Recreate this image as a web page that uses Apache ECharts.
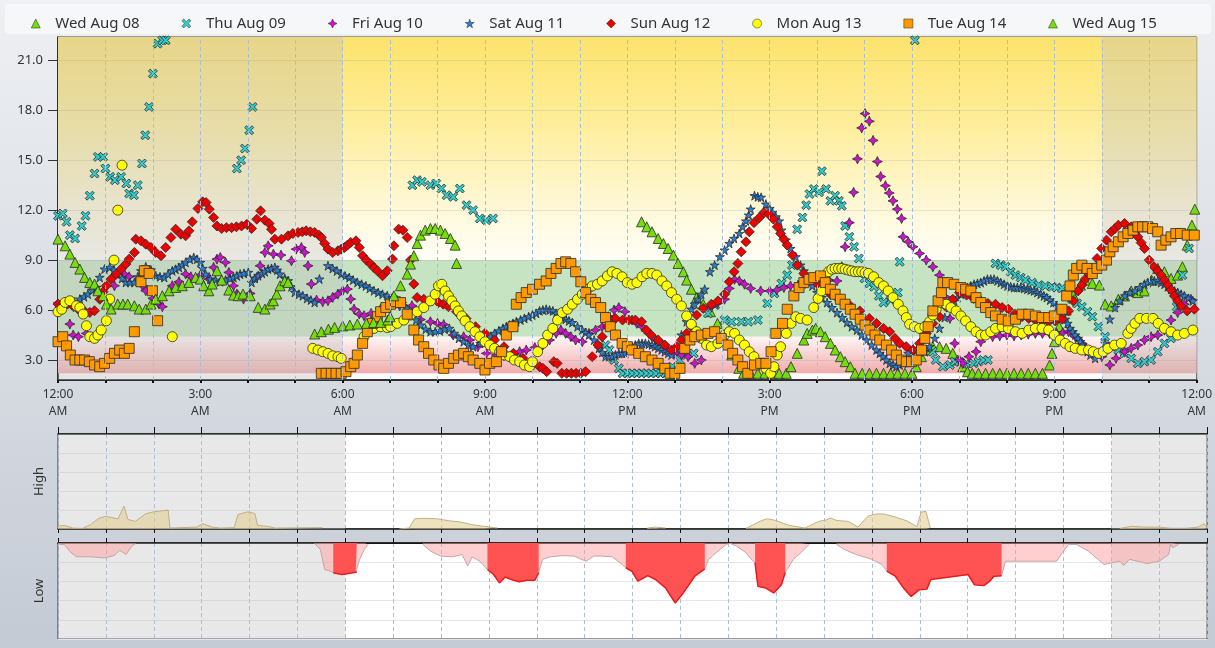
<!DOCTYPE html>
<html>
<head>
<meta charset="utf-8">
<script src="https://cdn.jsdelivr.net/npm/echarts@6.0.0/dist/echarts.min.js"></script>
<style>
  html, body { margin: 0; padding: 0; }
  #chart { width: 1215px; height: 648px; background: linear-gradient(#eef0f3, #c4cad4); }
</style>
</head>
<body>
<div id="chart"></div>
<script>
// readings per day: [hour of day, mmol/L]
const wedAug08 = [[12.3,11.3],[12.41,11.0],[12.52,10.7],[12.65,10.3],[12.76,10.0],[12.86,9.7],[12.97,9.3],[13.07,8.8],[13.18,8.3],[13.25,7.8],[13.35,7.25],[13.46,6.75],[13.6,6.35],[13.75,5.9],[13.9,5.2],[14.05,4.3],[14.2,3.3],[14.35,2.5],[14.45,2.2],[14.6,2.2],[14.75,2.2],[14.9,2.2],[15.05,2.2],[15.2,2.2],[15.35,2.2],[15.45,2.6],[15.58,3.4],[15.72,4.2],[15.79,4.6],[15.9,4.8],[15.97,4.9],[16.07,4.7],[16.17,4.4],[16.28,4.0],[16.38,3.6],[16.49,3.2],[16.59,2.9],[16.7,2.6],[16.8,2.2],[16.95,2.2],[17.1,2.2],[17.25,2.2],[17.4,2.2],[17.55,2.2],[17.7,2.2],[17.85,2.2],[18.0,2.2],[18.09,2.6],[18.2,3.2],[18.3,3.6],[18.44,3.8],[18.58,3.8],[18.72,3.7],[18.86,3.4],[18.96,3.0],[19.07,2.6],[19.17,2.3],[19.27,2.2],[19.4,2.2],[19.55,2.2],[19.7,2.2],[19.85,2.2],[20.0,2.2],[20.15,2.2],[20.3,2.2],[20.45,2.2],[20.6,2.2],[20.75,2.2],[20.9,2.7],[20.95,3.4],[21.0,4.1],[21.1,5.0],[21.25,6.0],[21.4,6.9],[21.55,7.5],[21.65,7.8],[21.8,7.6],[21.95,7.5],[22.07,6.35],[22.2,6.25],[22.35,6.65],[22.48,6.85],[22.62,7.15],[22.76,7.05],[22.9,7.15],[23.05,7.8],[23.18,8.5],[23.32,8.3],[23.46,7.9],[23.6,8.1],[23.7,8.6],[23.8,9.9],[23.9,11.1],[23.96,12.06]];

const thuAug09 = [[0,11.66],[0.1,11.8],[0.18,11.3],[0.25,10.5],[0.36,10.3],[0.5,11.05],[0.58,11.66],[0.67,12.87],[0.77,14.2],[0.84,15.2],[0.95,15.2],[1.0,14.5],[1.1,14.0],[1.2,13.8],[1.33,14.0],[1.44,13.6],[1.5,13.0],[1.6,12.9],[1.68,13.5],[1.77,14.8],[1.84,16.5],[1.92,18.2],[2.0,20.2],[2.1,22.0],[2.2,22.2],[2.27,22.2],[3.77,14.5],[3.86,15.0],[3.94,15.7],[4.03,16.8],[4.1,18.2],[7.47,13.5],[7.57,13.8],[7.67,13.7],[7.85,13.5],[7.97,13.6],[8.08,13.3],[8.19,12.9],[8.33,12.8],[8.47,13.3],[8.61,12.3],[8.75,12.0],[8.89,11.5],[9.03,11.4],[9.17,11.5],[11.54,3.9],[11.62,3.6],[11.72,3.0],[11.82,2.5],[11.9,2.2],[12.0,2.2],[12.1,2.2],[12.2,2.2],[12.3,2.2],[12.4,2.2],[12.5,2.2],[12.6,2.2],[12.7,2.2],[12.8,2.2],[12.95,2.6],[13.1,3.0],[13.25,3.3],[13.4,3.4],[13.55,4.6],[13.7,5.8],[13.85,6.3],[14.05,5.4],[14.2,5.3],[14.4,5.3],[14.55,5.3],[14.75,5.4],[14.95,6.4],[15.1,7.0],[15.25,7.6],[15.37,8.1],[15.47,8.7],[15.58,10.85],[15.69,11.56],[15.77,12.3],[15.84,12.97],[15.93,13.27],[16.04,13.07],[16.1,14.34],[16.19,13.27],[16.28,12.56],[16.38,12.87],[16.46,12.56],[16.52,12.26],[16.59,11.05],[16.68,10.4],[16.78,9.8],[16.88,9.1],[17.0,7.9],[17.1,7.6],[17.2,7.4],[17.3,6.85],[17.4,6.45],[17.55,6.6],[17.7,7.05],[17.74,8.9],[18.06,22.2],[18.44,3.5],[18.5,3.0],[18.65,2.6],[18.8,2.7],[18.9,2.9],[19.0,2.9],[19.15,2.8],[19.3,2.8],[19.4,2.9],[19.5,3.0],[19.6,3.0],[19.76,8.8],[19.87,8.7],[19.97,8.6],[20.08,8.3],[20.18,8.1],[20.29,7.95],[20.39,7.8],[20.53,7.65],[20.67,7.5],[20.81,7.45],[20.95,7.4],[21.05,7.35],[21.16,7.3],[21.27,6.95],[21.37,6.65],[21.48,6.4],[21.58,6.2],[21.7,5.9],[21.8,5.6],[21.93,5.0],[22.07,4.4],[22.2,3.8],[22.35,3.6],[22.48,3.4],[22.62,3.1],[22.76,2.8],[22.9,2.9],[23.04,3.0],[23.18,3.5],[23.32,4.0],[23.46,4.3],[23.58,6.2],[23.7,8.1],[23.84,9.7]];

const friAug10 = [[0.25,5.16],[0.32,4.5],[0.43,4.4],[0.6,4.6],[1.19,7.46],[1.4,8.16],[1.5,8.0],[1.78,7.46],[1.85,7.16],[2.0,6.7],[2.13,6.36],[2.2,6.2],[2.41,7.46],[2.55,7.7],[2.69,8.16],[2.8,8.0],[3.0,8.1],[3.18,7.86],[3.28,8.56],[3.35,9.06],[3.42,9.16],[3.53,8.86],[3.6,8.26],[3.7,7.46],[3.77,6.96],[3.91,6.66],[4.05,7.0],[4.19,7.96],[4.26,8.66],[4.36,9.46],[4.43,9.86],[4.54,9.36],[4.7,9.3],[4.92,8.96],[5.02,9.66],[5.13,9.76],[5.2,9.46],[5.27,8.66],[5.34,7.56],[5.45,6.6],[5.58,6.5],[5.69,6.56],[5.79,6.76],[5.9,6.96],[6.0,7.16],[6.1,7.26],[6.17,6.66],[6.24,6.06],[6.35,5.76],[6.45,5.66],[6.6,5.8],[6.8,6.06],[7.0,6.2],[7.2,6.25],[7.46,6.26],[7.64,5.43],[7.85,5.3],[8.0,5.2],[8.13,5.13],[8.33,4.5],[8.55,4.4],[8.68,4.2],[8.85,3.8],[9.03,3.4],[9.24,3.3],[9.4,3.25],[9.59,3.3],[9.73,3.5],[9.87,3.6],[10.05,3.75],[10.22,3.9],[10.36,4.2],[10.5,4.6],[10.6,4.8],[10.7,4.6],[10.81,4.4],[10.91,4.2],[11.05,4.1],[11.19,4.6],[11.33,4.8],[11.47,5.0],[11.6,5.6],[11.72,6.0],[11.82,6.15],[11.95,5.9],[12.1,5.4],[12.2,5.2],[12.31,5.0],[12.45,4.6],[12.6,4.2],[12.75,3.9],[12.86,3.6],[13.0,3.4],[13.14,3.3],[13.28,3.2],[13.42,2.8],[13.56,3.0],[13.66,4.5],[13.77,6.2],[13.9,6.4],[14.05,6.65],[14.15,7.3],[14.26,7.85],[14.36,7.75],[14.47,7.55],[14.6,7.3],[14.81,7.15],[15.0,7.15],[15.15,7.2],[15.3,7.35],[15.44,7.45],[15.6,7.5],[15.75,7.6],[15.9,7.7],[16.07,7.85],[16.25,7.8],[16.42,7.75],[16.52,8.6],[16.59,9.8],[16.68,11.25],[16.77,13.07],[16.85,15.08],[16.94,16.94],[17.01,17.8],[17.1,17.34],[17.18,16.19],[17.27,14.92],[17.34,14.02],[17.44,13.47],[17.52,13.03],[17.6,12.56],[17.69,12.06],[17.78,11.5],[17.81,10.4],[17.92,10.1],[18.02,9.8],[18.16,9.4],[18.3,9.0],[18.44,8.6],[18.58,8.1],[18.7,6.8],[18.8,5.5],[18.9,4.0],[19.0,3.0],[19.07,2.8],[19.2,3.2],[19.35,3.5],[19.45,4.1],[19.55,4.5],[19.7,4.4],[19.85,4.45],[20.0,4.5],[20.15,4.45],[20.3,4.5],[20.45,4.55],[20.6,4.6],[20.75,4.6],[20.9,4.6],[21.05,4.6],[21.18,4.65],[21.3,4.7],[21.44,4.4],[21.58,4.0],[21.72,3.5],[21.86,3.3],[22.0,3.2],[22.17,2.7],[22.3,3.1],[22.48,3.5],[22.62,3.7],[22.76,3.9],[22.9,4.2],[23.04,4.4],[23.18,4.5],[23.32,4.8],[23.46,5.4],[23.6,5.85],[23.74,6.35],[23.88,6.65]];

const satAug11 = [[0,6.4],[0.1,6.35],[0.22,6.36],[0.34,6.5],[0.46,6.66],[0.55,6.8],[0.63,6.96],[0.72,7.2],[0.81,7.36],[0.88,7.96],[0.98,8.46],[1.09,8.56],[1.18,8.4],[1.26,8.16],[1.35,7.9],[1.43,7.66],[1.52,7.66],[1.61,7.66],[1.68,8.0],[1.75,8.36],[1.85,8.6],[1.96,8.4],[2.06,8.06],[2.15,8.0],[2.24,7.96],[2.32,8.15],[2.41,8.36],[2.48,8.45],[2.55,8.56],[2.62,8.7],[2.69,8.86],[2.78,9.05],[2.86,9.16],[2.93,9.05],[3.0,8.86],[3.05,8.5],[3.11,8.16],[3.21,7.86],[3.32,7.8],[3.42,7.7],[3.53,7.8],[3.63,7.9],[3.7,7.96],[3.77,8.05],[3.84,8.16],[3.92,8.2],[4.01,8.26],[4.08,7.66],[4.15,7.9],[4.22,8.06],[4.3,8.2],[4.36,8.3],[4.43,8.46],[4.5,8.5],[4.57,8.56],[4.62,8.4],[4.68,8.16],[4.78,7.9],[4.85,7.76],[4.92,7.4],[4.99,7.06],[5.08,6.95],[5.16,6.86],[5.25,6.7],[5.33,6.6],[5.41,6.46],[5.51,7.86],[5.69,8.66],[5.79,8.5],[5.88,8.35],[5.97,8.16],[6.05,8.05],[6.14,7.95],[6.22,7.8],[6.31,7.66],[6.4,7.55],[6.49,7.45],[6.57,7.3],[6.66,7.16],[6.75,7.05],[6.84,6.95],[6.94,6.86],[7.05,6.75],[7.15,6.6],[7.25,6.4],[7.35,6.1],[7.45,5.8],[7.55,5.4],[7.65,5.1],[7.75,4.85],[7.85,4.7],[7.95,4.7],[8.05,4.75],[8.15,4.85],[8.25,4.9],[8.35,4.6],[8.45,4.3],[8.55,4.1],[8.65,3.9],[8.75,3.8],[8.9,4.0],[9.03,4.2],[9.12,4.4],[9.2,4.6],[9.29,4.75],[9.38,4.9],[9.45,5.0],[9.52,5.1],[9.59,5.2],[9.66,5.3],[9.75,5.4],[9.83,5.5],[9.92,5.6],[10.0,5.7],[10.08,5.8],[10.15,5.95],[10.22,6.0],[10.29,6.05],[10.36,6.0],[10.43,5.95],[10.5,5.8],[10.56,5.65],[10.63,5.55],[10.7,5.45],[10.77,5.35],[10.84,5.25],[10.95,5.0],[11.05,4.8],[11.12,4.65],[11.19,4.5],[11.3,4.2],[11.4,3.7],[11.47,3.45],[11.54,3.2],[11.61,3.2],[11.68,3.2],[11.75,3.3],[11.82,3.4],[11.89,3.4],[11.96,3.4],[12.03,3.6],[12.1,3.8],[12.17,3.9],[12.24,4.0],[12.31,4.0],[12.38,4.0],[12.45,3.95],[12.52,3.9],[12.58,3.8],[12.65,3.7],[12.72,3.6],[12.79,3.5],[12.86,3.4],[12.93,3.3],[13.04,3.7],[13.14,4.5],[13.25,5.3],[13.35,6.05],[13.42,6.35],[13.49,6.65],[13.56,6.95],[13.63,7.25],[13.74,8.3],[13.84,8.7],[13.95,9.2],[14.05,9.6],[14.15,10.0],[14.25,10.3],[14.36,10.6],[14.43,11.0],[14.5,11.35],[14.56,11.7],[14.6,12.06],[14.68,12.87],[14.75,12.8],[14.82,12.77],[14.92,12.36],[15.0,12.1],[15.06,11.86],[15.13,11.6],[15.2,11.35],[15.25,10.8],[15.34,10.2],[15.44,9.7],[15.55,9.2],[15.65,8.7],[15.72,8.35],[15.79,8.0],[15.9,7.45],[16.0,7.05],[16.1,6.75],[16.21,6.45],[16.31,6.15],[16.42,5.85],[16.53,5.55],[16.63,5.25],[16.73,5.0],[16.84,4.8],[16.94,4.5],[17.04,4.2],[17.15,3.9],[17.25,3.6],[17.32,3.4],[17.39,3.2],[17.46,3.0],[17.53,2.8],[17.6,2.7],[17.67,2.6],[17.74,2.7],[17.81,2.8],[17.92,3.4],[18.02,3.7],[18.1,3.6],[18.16,3.5],[18.27,3.5],[18.37,3.8],[18.48,4.3],[18.58,4.9],[18.69,5.55],[18.79,6.15],[18.89,6.55],[18.96,6.75],[19.03,6.95],[19.1,7.15],[19.17,7.35],[19.24,7.45],[19.31,7.55],[19.38,7.6],[19.45,7.65],[19.52,7.75],[19.59,7.85],[19.66,7.85],[19.73,7.85],[19.8,7.75],[19.87,7.65],[19.94,7.55],[20.01,7.45],[20.08,7.4],[20.15,7.35],[20.22,7.35],[20.29,7.35],[20.36,7.3],[20.43,7.25],[20.5,7.2],[20.57,7.15],[20.64,7.05],[20.71,6.95],[20.78,6.85],[20.84,6.75],[20.91,6.6],[20.98,6.45],[21.05,6.2],[21.12,5.95],[21.18,5.7],[21.23,5.45],[21.28,5.2],[21.33,4.9],[21.39,4.7],[21.44,4.5],[21.5,4.3],[21.55,4.1],[21.6,3.9],[21.65,3.7],[21.7,3.5],[21.76,3.3],[21.86,3.1],[21.97,3.4],[22.07,4.0],[22.17,5.45],[22.28,6.15],[22.38,6.55],[22.49,6.85],[22.59,7.05],[22.7,7.15],[22.8,7.35],[22.9,7.55],[22.97,7.65],[23.04,7.75],[23.11,7.75],[23.18,7.75],[23.25,7.65],[23.32,7.55],[23.39,7.4],[23.46,7.25],[23.53,7.15],[23.6,7.05],[23.67,6.95],[23.74,6.85],[23.83,6.7],[23.92,6.55]];

const sunAug12 = [[0,6.36],[0.1,6.36],[0.2,6.36],[0.33,6.2],[0.46,5.96],[0.57,5.9],[0.67,5.86],[0.77,5.96],[0.88,6.65],[0.95,7.1],[1.02,7.46],[1.12,7.86],[1.23,8.16],[1.33,8.46],[1.43,8.76],[1.5,9.06],[1.61,9.46],[1.64,10.26],[1.75,10.16],[1.85,9.96],[1.96,9.76],[2.06,9.46],[2.17,9.26],[2.27,9.76],[2.38,10.36],[2.48,10.86],[2.59,10.56],[2.69,10.46],[2.76,10.76],[2.83,11.3],[2.95,12.1],[3.05,12.5],[3.12,12.46],[3.19,12.06],[3.28,11.56],[3.35,11.05],[3.45,10.9],[3.55,10.95],[3.66,10.95],[3.76,11.0],[3.87,11.05],[3.98,11.15],[4.08,10.9],[4.19,11.46],[4.27,11.96],[4.36,11.4],[4.45,11.2],[4.5,10.85],[4.57,10.26],[4.71,10.26],[4.85,10.46],[4.95,10.6],[5.06,10.66],[5.15,10.7],[5.23,10.76],[5.32,10.7],[5.41,10.66],[5.5,10.5],[5.55,10.36],[5.62,10.0],[5.69,9.66],[5.79,9.46],[5.9,9.56],[5.97,9.66],[6.04,9.76],[6.1,9.9],[6.17,10.06],[6.28,10.16],[6.35,9.76],[6.42,9.26],[6.5,9.0],[6.59,8.76],[6.66,8.55],[6.73,8.36],[6.84,8.06],[6.94,8.36],[7.05,9.06],[7.08,9.86],[7.18,10.86],[7.27,10.8],[7.36,10.36],[7.43,9.0],[7.5,7.56],[7.57,6.75],[7.71,6.65],[7.88,6.55],[8.02,6.45],[8.12,6.35],[8.23,6.2],[8.4,5.9],[8.6,5.5],[8.8,5.0],[9.0,4.6],[9.2,4.2],[9.4,3.8],[9.6,3.4],[9.8,3.1],[10.0,2.9],[10.15,2.6],[10.22,2.5],[10.3,2.3],[10.45,2.9],[10.52,2.8],[10.62,2.2],[10.72,2.2],[10.82,2.2],[10.92,2.2],[11.02,2.2],[11.12,2.3],[11.26,3.2],[11.38,3.9],[11.47,4.4],[11.58,5.0],[11.68,5.4],[11.75,5.5],[11.9,5.4],[12.03,5.4],[12.17,5.4],[12.3,5.3],[12.4,4.8],[12.5,4.5],[12.65,4.2],[12.79,3.9],[12.93,3.6],[13.04,3.8],[13.14,4.2],[13.25,4.6],[13.35,5.0],[13.46,5.7],[13.6,6.1],[13.77,6.35],[13.91,6.55],[14.05,6.95],[14.15,7.7],[14.25,8.3],[14.33,8.8],[14.4,9.5],[14.5,10.1],[14.57,10.7],[14.67,11.25],[14.78,11.55],[14.88,11.86],[14.98,11.76],[15.08,11.46],[15.16,11.0],[15.23,10.6],[15.3,10.25],[15.37,9.9],[15.48,9.3],[15.58,8.7],[15.72,8.2],[15.86,7.9],[16.0,7.6],[16.14,7.2],[16.28,6.95],[16.42,6.75],[16.56,6.45],[16.7,6.25],[16.9,5.95],[17.1,5.5],[17.25,5.2],[17.4,4.9],[17.53,4.7],[17.64,4.3],[17.74,4.0],[17.88,3.8],[18.02,3.6],[18.16,4.0],[18.3,4.6],[18.44,5.2],[18.58,5.6],[18.72,6.2],[18.86,6.65],[19.0,7.05],[19.15,6.9],[19.3,6.7],[19.45,6.55],[19.6,6.4],[19.76,6.35],[19.9,6.15],[20.03,6.05],[20.17,5.75],[20.32,5.6],[20.46,5.5],[20.6,5.4],[20.74,5.35],[20.88,5.3],[21.02,5.35],[21.16,5.45],[21.3,5.95],[21.4,6.55],[21.5,7.15],[21.58,7.5],[21.65,7.85],[21.72,8.2],[21.8,8.5],[21.9,9.1],[22.0,9.7],[22.1,10.2],[22.2,10.7],[22.28,10.9],[22.35,11.1],[22.48,11.2],[22.62,11.0],[22.7,10.7],[22.76,10.4],[22.83,10.05],[22.9,9.7],[23.0,9.0],[23.1,8.6],[23.18,8.35],[23.25,8.1],[23.32,7.8],[23.39,7.5],[23.46,7.2],[23.53,6.85],[23.6,6.55],[23.67,6.25],[23.8,5.95],[23.95,6.05]];

const monAug13 = [[0,5.9],[0.08,6.05],[0.15,6.46],[0.25,6.56],[0.39,6.26],[0.46,6.15],[0.53,5.76],[0.6,5.06],[0.67,4.4],[0.77,4.3],[0.84,4.5],[0.91,4.8],[1.02,5.36],[1.09,6.66],[1.18,9.0],[1.26,12.0],[1.35,14.7],[2.41,4.4],[5.37,3.7],[5.48,3.6],[5.58,3.5],[5.69,3.4],[5.79,3.25],[5.9,3.2],[5.97,3.1],[6.45,4.4],[6.56,4.8],[6.66,4.9],[6.8,5.0],[6.94,4.95],[7.01,5.0],[7.15,5.2],[7.29,5.4],[7.43,5.7],[7.57,5.9],[7.71,6.15],[7.85,6.55],[7.95,6.95],[8.02,7.45],[8.09,7.55],[8.16,7.15],[8.23,6.85],[8.3,6.55],[8.37,6.25],[8.44,5.95],[8.51,5.65],[8.58,5.35],[8.68,5.0],[8.79,4.7],[8.89,4.4],[9.0,4.1],[9.1,3.9],[9.2,3.7],[9.31,3.5],[9.41,3.3],[9.52,3.2],[9.62,3.0],[9.73,2.9],[9.83,2.7],[9.94,2.6],[10.0,2.9],[10.11,3.5],[10.22,4.0],[10.32,4.5],[10.43,4.9],[10.53,5.4],[10.63,5.85],[10.74,6.05],[10.84,6.35],[10.95,6.65],[11.05,6.95],[11.16,7.25],[11.26,7.45],[11.37,7.55],[11.47,7.75],[11.58,8.05],[11.68,8.3],[11.78,8.2],[11.89,8.0],[12.0,7.65],[12.1,7.55],[12.2,7.65],[12.31,8.0],[12.41,8.2],[12.52,8.2],[12.62,8.1],[12.73,7.75],[12.83,7.45],[12.93,7.05],[13.04,6.65],[13.14,6.25],[13.25,5.65],[13.35,5.15],[13.46,4.7],[13.56,4.3],[13.67,3.9],[13.77,3.8],[13.91,4.0],[14.05,4.5],[14.15,4.7],[14.26,4.6],[14.36,4.2],[14.47,3.9],[14.57,3.5],[14.67,3.2],[14.81,2.8],[14.92,2.5],[15.02,2.2],[15.09,2.6],[15.16,3.3],[15.23,3.8],[15.35,4.6],[15.45,5.2],[15.55,5.6],[15.65,5.5],[15.79,5.4],[15.93,6.15],[16.02,6.7],[16.1,7.15],[16.17,7.8],[16.24,8.3],[16.31,8.45],[16.38,8.5],[16.45,8.5],[16.52,8.5],[16.59,8.45],[16.66,8.4],[16.73,8.35],[16.8,8.3],[16.87,8.3],[16.94,8.3],[17.01,8.25],[17.08,8.2],[17.19,8.0],[17.3,7.65],[17.4,7.45],[17.5,7.15],[17.6,6.75],[17.71,6.35],[17.81,5.95],[17.88,5.55],[17.95,5.15],[18.05,5.0],[18.16,4.9],[18.27,5.0],[18.37,5.3],[18.44,5.7],[18.51,6.05],[18.61,6.45],[18.72,6.35],[18.82,6.15],[18.93,5.95],[19.03,5.65],[19.13,5.35],[19.24,5.0],[19.35,4.7],[19.45,4.5],[19.55,4.5],[19.66,4.7],[19.76,4.9],[19.9,5.0],[20.03,4.9],[20.18,4.7],[20.32,4.6],[20.46,4.8],[20.6,4.9],[20.74,4.9],[20.88,4.8],[21.0,4.5],[21.12,4.2],[21.23,4.0],[21.33,3.8],[21.44,3.7],[21.58,3.6],[21.72,3.6],[21.82,3.5],[21.93,3.4],[22.03,3.5],[22.13,3.7],[22.27,3.9],[22.41,4.0],[22.55,4.6],[22.62,4.9],[22.7,5.2],[22.8,5.5],[22.94,5.5],[23.08,5.5],[23.19,5.2],[23.32,4.9],[23.46,4.7],[23.6,4.5],[23.74,4.6],[23.92,4.8]];

const tueAug14 = [[0,4.1],[0.1,4.4],[0.18,3.85],[0.26,3.3],[0.36,3.0],[0.46,3.0],[0.56,3.0],[0.66,2.9],[0.77,2.7],[0.88,2.6],[0.98,2.8],[1.09,3.1],[1.19,3.4],[1.3,3.6],[1.4,3.4],[1.5,3.7],[1.61,4.7],[1.75,7.7],[1.82,8.36],[1.92,8.2],[1.99,7.16],[2.1,5.36],[5.55,2.2],[5.65,2.2],[5.76,2.2],[5.86,2.2],[5.97,2.2],[6.07,2.3],[6.17,2.6],[6.24,2.8],[6.31,3.3],[6.42,4.0],[6.52,4.7],[6.63,5.2],[6.73,5.6],[6.8,5.9],[6.91,6.15],[7.01,6.35],[7.11,6.5],[7.22,6.45],[7.36,5.75],[7.5,4.8],[7.6,4.2],[7.71,3.8],[7.81,3.4],[7.92,3.0],[8.03,2.7],[8.13,2.5],[8.23,2.8],[8.34,3.1],[8.44,3.3],[8.55,3.4],[8.65,3.2],[8.75,3.0],[8.89,2.8],[9.0,2.4],[9.1,2.8],[9.24,2.9],[9.35,3.5],[9.45,4.5],[9.59,5.0],[9.66,6.35],[9.76,6.75],[9.87,7.05],[10.0,7.25],[10.15,7.55],[10.29,7.75],[10.39,8.2],[10.5,8.5],[10.6,8.8],[10.7,8.9],[10.81,8.8],[10.91,8.3],[11.02,7.7],[11.12,7.05],[11.23,6.65],[11.33,6.45],[11.44,6.15],[11.54,5.55],[11.64,5.0],[11.75,4.5],[11.89,4.0],[12.0,3.8],[12.1,3.6],[12.24,3.4],[12.38,3.2],[12.52,3.0],[12.65,2.8],[12.79,2.5],[12.9,2.2],[13.0,2.2],[13.11,2.5],[13.21,3.7],[13.32,4.2],[13.42,4.4],[13.56,4.5],[13.7,4.6],[13.84,4.7],[13.98,4.3],[14.12,3.9],[14.22,3.4],[14.33,3.0],[14.43,2.6],[14.54,2.2],[14.68,2.7],[14.81,2.8],[14.92,2.8],[15.03,3.5],[15.13,4.6],[15.27,5.2],[15.37,6.05],[15.51,6.85],[15.62,7.35],[15.72,7.65],[15.83,7.85],[15.93,7.95],[16.07,8.05],[16.17,7.65],[16.28,7.25],[16.38,6.95],[16.49,6.65],[16.59,6.35],[16.7,6.05],[16.8,5.75],[16.91,5.45],[17.01,5.1],[17.11,4.8],[17.22,4.5],[17.32,4.2],[17.46,3.9],[17.57,3.6],[17.67,3.3],[17.78,3.0],[17.88,2.9],[17.99,2.9],[18.09,3.0],[18.2,3.6],[18.27,4.3],[18.34,5.0],[18.44,5.95],[18.55,6.55],[18.62,7.05],[18.65,7.65],[18.75,7.65],[18.89,7.55],[19.03,7.35],[19.13,7.25],[19.24,7.15],[19.35,6.75],[19.45,6.45],[19.55,6.15],[19.66,5.85],[19.76,5.65],[19.9,5.45],[20.03,5.35],[20.18,5.45],[20.32,5.75],[20.46,5.75],[20.6,5.65],[20.74,5.55],[20.88,5.55],[21.0,5.65],[21.16,6.05],[21.26,6.85],[21.33,7.45],[21.4,8.1],[21.47,8.5],[21.58,8.7],[21.69,8.5],[21.8,8.2],[21.9,8.5],[22.0,8.7],[22.1,9.0],[22.17,9.5],[22.24,9.8],[22.35,10.1],[22.45,10.4],[22.55,10.6],[22.66,10.8],[22.76,11.0],[22.86,11.0],[22.97,11.0],[23.07,10.9],[23.18,10.7],[23.25,9.9],[23.35,10.2],[23.46,10.4],[23.56,10.6],[23.66,10.6],[23.8,10.5],[23.95,10.5]];

const wedAug15 = [[0,10.26],[0.15,9.86],[0.25,9.36],[0.36,8.86],[0.46,8.46],[0.56,7.96],[0.67,7.66],[0.77,7.56],[0.84,7.16],[0.95,6.86],[1.02,6.36],[1.12,6.06],[1.26,6.36],[1.37,6.36],[1.47,6.36],[1.61,6.26],[1.71,6.06],[1.85,6.06],[1.96,6.36],[2.06,6.66],[2.2,6.86],[2.34,7.16],[2.48,7.36],[2.62,7.46],[2.76,7.66],[2.9,7.96],[3.0,7.86],[3.07,7.46],[3.18,7.16],[3.25,7.56],[3.35,8.36],[3.45,7.8],[3.6,7.2],[3.7,6.9],[3.8,6.86],[3.9,6.96],[4.05,6.86],[4.22,6.16],[4.36,6.06],[4.47,6.36],[4.54,6.56],[4.61,6.96],[4.68,7.46],[4.78,7.76],[4.85,7.66],[5.41,4.56],[5.55,4.7],[5.7,4.85],[5.83,4.96],[6.0,5.05],[6.15,5.1],[6.31,5.16],[6.5,5.2],[6.65,5.25],[6.8,5.26],[6.95,5.4],[7.0,5.6],[7.08,6.86],[7.22,7.46],[7.36,8.16],[7.43,8.76],[7.5,9.26],[7.57,10.0],[7.64,10.5],[7.74,10.8],[7.85,10.9],[7.95,10.9],[8.06,10.8],[8.16,10.6],[8.27,10.3],[8.37,9.9],[8.4,8.8]];

// lower panels: excursion above / below target, null = no excursion
const highExcursion = [[0,0.16],[0.14,0.19],[0.31,0.05],[0.51,0.03],[0.68,0.23],[0.84,0.54],[0.99,0.67],[1.13,0.6],[1.25,0.53],[1.38,1.2],[1.46,0.5],[1.62,0.4],[1.83,0.8],[1.99,0.9],[2.16,0.95],[2.3,1.0],[2.34,0.05],[2.9,0.1],[3.02,0.28],[3.22,0.1],[3.39,0.05],[3.68,0.07],[3.76,0.76],[3.96,0.9],[4.11,0.82],[4.17,0.19],[4.37,0.14],[4.54,0.05],[5.52,0.07],[5.58,null],[7.13,0],[7.33,0.05],[7.45,0.54],[7.62,0.56],[7.91,0.54],[8.15,0.44],[8.4,0.37],[8.65,0.23],[8.89,0.14],[9.18,0.05],[9.3,null],[12.31,0.05],[12.48,0.1],[12.69,0.05],[12.8,null],[14.37,0.03],[14.7,0.45],[14.82,0.54],[14.99,0.45],[15.27,0.19],[15.6,0.05],[15.89,0.4],[16.06,0.49],[16.14,0.58],[16.26,0.45],[16.51,0.4],[16.71,0.1],[16.92,0.68],[17.08,0.79],[17.25,0.79],[17.49,0.63],[17.74,0.42],[17.94,0.12],[18.03,0.89],[18.13,0.93],[18.22,0.05],[18.3,null],[22.18,0.03],[22.42,0.14],[22.67,0.1],[23.0,0.1],[23.24,0.04],[23.57,0.04],[23.82,0.1],[23.94,0.28],[24,0.05]];

const lowExcursion = [[0,0.05],[0.14,0.1],[0.27,0.5],[0.39,0.72],[0.68,0.72],[0.96,0.78],[1.17,0.66],[1.29,0.38],[1.42,0.6],[1.54,0.17],[1.62,0.03],[1.7,null],[5.36,0.03],[5.48,0.34],[5.57,1.38],[5.69,1.47],[5.75,1.55],[5.93,1.64],[6.22,1.52],[6.3,0.85],[6.4,0.33],[6.48,0.07],[6.55,null],[7.62,0.07],[7.78,0.42],[7.99,0.68],[8.24,0.72],[8.44,0.6],[8.56,1.2],[8.65,0.72],[8.81,0.95],[8.97,1.38],[9.1,1.64],[9.22,2.08],[9.34,1.77],[9.47,1.9],[9.63,2.02],[9.8,1.94],[9.96,1.94],[10.04,1.55],[10.12,0.85],[10.29,0.72],[10.54,0.66],[10.78,0.68],[11.03,0.95],[11.19,0.68],[11.33,0.68],[11.58,0.72],[11.74,1.03],[11.86,1.29],[11.99,1.47],[12.11,1.99],[12.32,1.7],[12.48,1.9],[12.69,2.34],[12.89,3.12],[13.06,2.6],[13.3,1.73],[13.51,1.35],[13.59,0.85],[13.75,0.5],[13.96,0.07],[14.04,0.02],[14.17,0.16],[14.37,0.5],[14.45,0.76],[14.56,1.03],[14.62,2.25],[14.78,2.34],[14.95,2.6],[15.11,2.17],[15.19,1.53],[15.36,0.85],[15.52,0.5],[15.69,0.07],[15.75,null],[16.26,0.07],[16.42,0.33],[16.67,0.6],[17.0,0.85],[17.21,1.12],[17.31,1.47],[17.49,1.73],[17.66,2.34],[17.82,2.78],[17.99,2.43],[18.15,2.39],[18.23,1.9],[19.01,1.64],[19.14,2.17],[19.34,2.22],[19.46,1.99],[19.55,1.73],[19.71,1.7],[19.79,0.95],[20.86,0.95],[20.98,0.5],[21.11,0.07],[21.27,0.07],[21.52,0.42],[21.85,1.12],[22.18,0.95],[22.26,1.17],[22.38,0.85],[22.75,1.07],[23.0,0.95],[23.2,0.6],[23.24,0.03],[23.28,0.25],[23.41,0.07],[23.5,null]];

const lowSevere = [[5.75,1.55],[5.93,1.64],[6.22,1.52],[6.24,1.5],[6.3,null],[8.97,1.38],[9.1,1.64],[9.22,2.08],[9.34,1.77],[9.47,1.9],[9.63,2.02],[9.8,1.94],[9.96,1.94],[10.04,1.55],[10.1,null],[11.86,1.29],[11.99,1.47],[12.11,1.99],[12.32,1.7],[12.48,1.9],[12.69,2.34],[12.89,3.12],[13.06,2.6],[13.3,1.73],[13.51,1.35],[13.55,null],[14.56,1.03],[14.62,2.25],[14.78,2.34],[14.95,2.6],[15.11,2.17],[15.19,1.53],[15.25,null],[17.31,1.47],[17.49,1.73],[17.66,2.34],[17.82,2.78],[17.99,2.43],[18.15,2.39],[18.23,1.9],[19.01,1.64],[19.14,2.17],[19.34,2.22],[19.46,1.99],[19.55,1.73],[19.71,1.7]];

const dayNames = ['Wed Aug 08', 'Thu Aug 09', 'Fri Aug 10', 'Sat Aug 11', 'Sun Aug 12', 'Mon Aug 13', 'Tue Aug 14', 'Wed Aug 15'];
const yTicks = [3, 6, 9, 12, 15, 18, 21];
const targetLow = 4.4;
const targetHigh = 9.0;
const sensorFloor = 2.2;

const G = echarts.graphic;
const chart = echarts.init(document.getElementById('chart'));

const symX = 'path://M2,0 L5,3 L8,0 L10,2 L7,5 L10,8 L8,10 L5,7 L2,10 L0,8 L3,5 L0,2 Z';
const sym4 = 'path://M5,0 L6.6,3.4 L10,5 L6.6,6.6 L5,10 L3.4,6.6 L0,5 L3.4,3.4 Z';
const sym5 = 'path://M5,0 L6.2,3.6 L10,3.6 L6.9,5.8 L8.1,9.5 L5,7.2 L1.9,9.5 L3.1,5.8 L0,3.6 L3.8,3.6 Z';

function hourLabel(h) {
  if (h % 3 !== 0) return '';
  const hh = h % 12 === 0 ? 12 : h % 12;
  return hh + ':00\n' + ((h % 24) < 12 ? 'AM' : 'PM');
}

const nightAreas = [[{ xAxis: 0 }, { xAxis: 6 }], [{ xAxis: 22 }, { xAxis: 24 }]];
const nightStyle = { color: 'rgba(190,190,190,0.35)' };
const hours = [];
for (let h = 1; h < 24; h++) hours.push(h);

function dayScatter(name, data, symbol, color, size) {
  return {
    name, type: 'scatter', data, symbol, symbolSize: size,
    xAxisIndex: 0, yAxisIndex: 0, z: 3,
    itemStyle: { color, borderColor: '#2a2a2a', borderWidth: 0.8, opacity: 1 }
  };
}

chart.setOption({
  animation: false,
  textStyle: { fontFamily: 'Noto Sans' },
  graphic: [{
    type: 'rect', left: 5, top: 4, z: -1, silent: true,
    shape: { width: 1206, height: 30, r: 2 },
    style: { fill: '#f6f7f9' }
  }],
  legend: {
    top: 11, left: 26, itemGap: 42, itemWidth: 9, itemHeight: 9,
    selectedMode: false,
    data: dayNames,
    itemStyle: { borderWidth: 0.5, borderColor: '#222' },
    textStyle: { fontSize: 15, color: '#333', fontFamily: 'Noto Sans', padding: [0, 0, 0, 10] }
  },
  grid: [
    { left: 58, right: 8, top: 37, height: 343, show: true, backgroundColor: '#fbfbfb', borderColor: '#444', borderWidth: 1 },
    { left: 58, right: 8, top: 434, height: 95, show: true, backgroundColor: '#ffffff', borderColor: '#333', borderWidth: 1 },
    { left: 58, right: 8, top: 543, height: 96, show: true, backgroundColor: '#ffffff', borderColor: '#333', borderWidth: 1 }
  ],
  xAxis: [
    { gridIndex: 0, type: 'value', min: 0, max: 24, interval: 1,
      axisLine: { lineStyle: { color: '#111', width: 1.5 } },
      axisTick: { length: 3, lineStyle: { color: '#111', width: 2 } },
      axisLabel: { formatter: hourLabel, color: '#333', fontSize: 12, lineHeight: 17, margin: 6 },
      splitLine: { show: false } },
    { gridIndex: 1, type: 'value', min: 0, max: 24, interval: 1, position: 'bottom',
      axisLine: { lineStyle: { color: '#111', width: 1.5 } },
      axisTick: { length: 4, lineStyle: { color: '#111' } },
      axisLabel: { show: false },
      splitLine: { show: true, lineStyle: { color: '#a7bfdd', type: [4, 3] } } },
    { gridIndex: 1, type: 'value', min: 0, max: 24, interval: 1, position: 'top',
      axisLine: { lineStyle: { color: '#111', width: 1.5 } },
      axisTick: { length: 7, lineStyle: { color: '#111' } },
      axisLabel: { show: false }, splitLine: { show: false } },
    { gridIndex: 2, type: 'value', min: 0, max: 24, interval: 1, position: 'bottom',
      axisLine: { lineStyle: { color: '#333' } },
      axisTick: { show: false },
      axisLabel: { show: false },
      splitLine: { show: true, lineStyle: { color: '#a7bfdd', type: [4, 3] } } },
    { gridIndex: 2, type: 'value', min: 0, max: 24, interval: 1, position: 'top',
      axisLine: { lineStyle: { color: '#111', width: 1.5 } },
      axisTick: { length: 5, lineStyle: { color: '#111' } },
      axisLabel: { show: false }, splitLine: { show: false } }
  ],
  yAxis: [
    { gridIndex: 0, type: 'value', min: 1.8, max: 22.4,
      axisLine: { show: true, lineStyle: { color: '#111', width: 1.5 } },
      axisTick: { show: true, length: 10, customValues: yTicks, lineStyle: { color: '#333' } },
      axisLabel: { customValues: yTicks, formatter: v => v.toFixed(1), color: '#333', fontSize: 13, margin: 15 },
      splitLine: { show: false } },
    { gridIndex: 1, type: 'value', min: 0, max: 5, interval: 1,
      name: 'High', nameLocation: 'middle', nameGap: 12, nameRotate: 90,
      nameTextStyle: { color: '#333', fontSize: 13 },
      axisLine: { show: false }, axisTick: { show: false }, axisLabel: { show: false },
      splitLine: { lineStyle: { color: '#e2e7ee' } } },
    { gridIndex: 2, type: 'value', min: 0, max: 5, interval: 1, inverse: true,
      name: 'Low', nameLocation: 'middle', nameGap: 12, nameRotate: 90,
      nameTextStyle: { color: '#333', fontSize: 13 },
      axisLine: { show: false }, axisTick: { show: false }, axisLabel: { show: false },
      splitLine: { lineStyle: { color: '#e2e7ee' } } }
  ],
  series: [
    // target / high / low bands
    { type: 'line', data: [], xAxisIndex: 0, yAxisIndex: 0, z: 1, silent: true,
      markArea: { silent: true, data: [
        [{ yAxis: targetHigh, itemStyle: { color: new G.LinearGradient(0, 0, 0, 1, [
          { offset: 0, color: '#fde36c' }, { offset: 0.4, color: '#feee9c' },
          { offset: 0.8, color: '#fff9dd' }, { offset: 1, color: '#fffef7' }]) } }, { yAxis: 22.4 }],
        [{ yAxis: targetLow, itemStyle: { color: '#c6e4c1' } }, { yAxis: targetHigh }],
        [{ yAxis: sensorFloor, itemStyle: { color: new G.LinearGradient(0, 0, 0, 1, [
          { offset: 0, color: '#fff6f6' }, { offset: 1, color: '#f1abab' }]) } }, { yAxis: targetLow }]
      ] } },
    { type: 'line', data: [], xAxisIndex: 0, yAxisIndex: 0, z: 1, silent: true,
      markArea: { silent: true, itemStyle: nightStyle, data: nightAreas } },
    { type: 'line', data: [], xAxisIndex: 0, yAxisIndex: 0, z: 1, silent: true,
      markLine: { silent: true, symbol: ['none', 'none'], label: { show: false },
        data: hours.map(h => ({ xAxis: h, lineStyle: { color: '#a7bfdd', type: [4, 3], width: 1 } }))
          .concat(yTicks.map(v => ({ yAxis: v, lineStyle: { color: 'rgba(150,150,150,0.22)', type: 'solid', width: 1 } }))) } },
    { type: 'line', data: [], xAxisIndex: 1, yAxisIndex: 1, z: 1, silent: true,
      markArea: { silent: true, itemStyle: nightStyle, data: nightAreas } },
    { type: 'line', data: [], xAxisIndex: 3, yAxisIndex: 2, z: 1, silent: true,
      markArea: { silent: true, itemStyle: nightStyle, data: nightAreas } },
    { type: 'line', data: highExcursion, xAxisIndex: 1, yAxisIndex: 1, z: 2, silent: true,
      showSymbol: false, lineStyle: { color: '#bfb089', width: 1 },
      areaStyle: { color: 'rgba(226,205,140,0.8)' } },
    { type: 'line', data: lowExcursion, xAxisIndex: 3, yAxisIndex: 2, z: 2, silent: true,
      showSymbol: false, lineStyle: { color: '#c9a3a3', width: 1 },
      areaStyle: { color: 'rgba(255,160,160,0.72)' } },
    { type: 'line', data: lowSevere, xAxisIndex: 3, yAxisIndex: 2, z: 2, silent: true,
      showSymbol: false, lineStyle: { color: '#f01818', width: 1.5 },
      areaStyle: { color: '#ff5252', opacity: 1 } },
    dayScatter('Wed Aug 08', wedAug08, 'triangle', '#74dd0a', 10),
    dayScatter('Thu Aug 09', thuAug09, symX, '#33cccc', 9),
    dayScatter('Fri Aug 10', friAug10, sym4, '#d010d0', 10),
    dayScatter('Sat Aug 11', satAug11, sym5, '#2a7fd6', 9),
    dayScatter('Sun Aug 12', sunAug12, 'diamond', '#ee0000', 10),
    dayScatter('Mon Aug 13', monAug13, 'circle', '#ffff00', 10),
    dayScatter('Tue Aug 14', tueAug14, 'rect', '#ff9a00', 10),
    dayScatter('Wed Aug 15', wedAug15, 'triangle', '#74dd0a', 10)
  ]
});
</script>
</body>
</html>
